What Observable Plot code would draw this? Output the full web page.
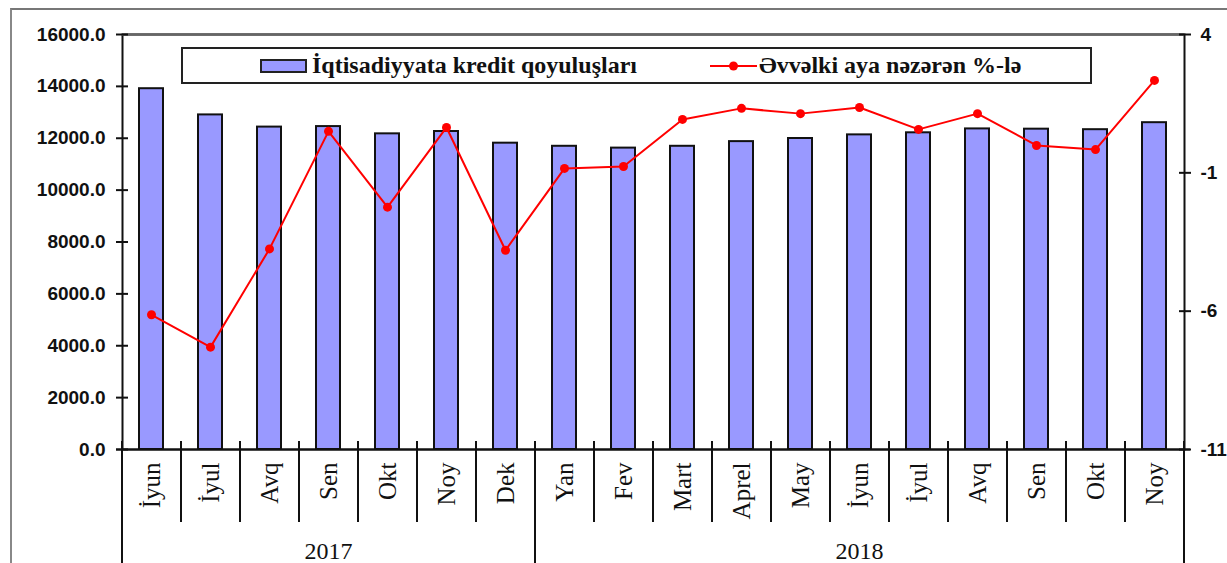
<!DOCTYPE html>
<html>
<head>
<meta charset="utf-8">
<script src="https://cdn.jsdelivr.net/npm/d3@7"></script>
<script src="https://cdn.jsdelivr.net/npm/@observablehq/plot@0.6"></script>
<style>
  html, body { margin: 0; padding: 0; background: #fff; }
  #wrap { position: relative; width: 1227px; height: 563px; overflow: hidden; background: #fff; }
  #wrap > svg { position: absolute; left: 0; top: 0; }
  #outer { position: absolute; left: 10px; top: 8px; right: 0; bottom: 0; border-top: 2px solid #777; border-left: 2px solid #888; pointer-events: none; }
  #legend { position: absolute; left: 181px; top: 47px; width: 907px; height: 33px; border: 2px solid #222; background: #fff;
            font-family: "Liberation Serif", "Times New Roman", serif; font-weight: bold; font-size: 24px; color: #111; }
  .item { position: absolute; top: 0; height: 33px; display: flex; align-items: center; white-space: nowrap; }
  .barsw { display: inline-block; width: 43px; height: 10px; background: #9999ff; border: 2px solid #222; margin-right: 5px; }
  .linesw { display: block; width: 47px; height: 12px; margin-right: 2px; }
</style>
</head>
<body>
<div id="wrap">
  <div id="outer"></div>
</div>
<script>
// ---- data ----
const months = ["İyun","İyul","Avq","Sen","Okt","Noy","Dek","Yan","Fev","Mart","Aprel","May","İyun","İyul","Avq","Sen","Okt","Noy"];
const credit = [13910,12900,12430,12450,12170,12260,11810,11690,11620,11690,11870,11990,12130,12210,12360,12350,12330,12600];
const change = [-6.13,-7.30,-3.75,0.50,-2.24,0.64,-3.80,-0.84,-0.77,0.93,1.33,1.14,1.36,0.57,1.14,-0.01,-0.16,2.34];
const years = ["2017","2018"];
const yearFirst = [0,7];
const yearLast = [6,17];
const leftTicks = [0,2000,4000,6000,8000,10000,12000,14000,16000];
const rightTicks = [4,-1,-6,-11];
const seriesNames = ["İqtisadiyyata kredit qoyuluşları","Əvvəlki aya nəzərən %-lə"];

// ---- layout ----
const W = 1227, H = 563;
const mL = 122, mR = 43, mT = 34, mB = 114;
const n = months.length;
const step = (W - mL - mR) / n;
const yMax = 16000, rMin = -11, rMax = 4;
const toLeft = v => (v - rMin) / (rMax - rMin) * yMax;
const fromLeft = v => Math.round(v / yMax * (rMax - rMin) + rMin);

const data = months.map((m, i) => ({i, month: m, credit: credit[i], change: change[i]}));
const innerBounds = d3.range(1, n).filter(i => !yearFirst.includes(i));
const yearBounds = yearFirst;
const yearData = years.map((y, k) => ({year: y, mid: (yearFirst[k] + yearLast[k]) / 2}));

const sans = "Arial, 'Liberation Sans', sans-serif";
const serif = "'Liberation Serif', 'Times New Roman', serif";

const chart = Plot.plot({
  width: W, height: H,
  marginLeft: mL, marginRight: mR, marginTop: mT, marginBottom: mB,
  style: {background: "transparent", fontFamily: sans, color: "#111", overflow: "visible"},
  x: {type: "band", domain: d3.range(n), paddingInner: 0.59, paddingOuter: 0.295},
  y: {domain: [0, yMax]},
  marks: [
    Plot.barY(data, {x: "i", y: "credit", fill: "#9999ff", stroke: "#111", strokeWidth: 2}),
    Plot.frame({stroke: "#111", strokeWidth: 2}),
    Plot.ruleY([yMax], {stroke: "#666", strokeWidth: 2.5}),
    Plot.ruleY([0], {stroke: "#111", strokeWidth: 2, insetLeft: -6, insetRight: -6}),
    // category separators
    Plot.ruleX(innerBounds, {x: d => d, dx: -step / 2, stroke: "#111", strokeWidth: 2, insetTop: 407, insetBottom: -73}),
    Plot.ruleX(yearBounds, {x: d => d, dx: -step / 2, stroke: "#111", strokeWidth: 2, insetTop: 407, insetBottom: -mB}),
    Plot.ruleX([n - 1], {x: d => d, dx: step / 2, stroke: "#111", strokeWidth: 2, insetTop: 407, insetBottom: -mB}),
    // line series on secondary scale
    Plot.lineY(data, {x: "i", y: d => toLeft(d.change), stroke: "#ff0000", strokeWidth: 2}),
    Plot.dot(data, {x: "i", y: d => toLeft(d.change), fill: "#ff0000", r: 4.5}),
    // axes
    Plot.axisY({ticks: leftTicks, tickFormat: d => d.toFixed(1), tickSize: 12, dx: 6, tickPadding: 11,
                fontSize: 19, fontWeight: "bold", fontFamily: sans, stroke: "#111", strokeWidth: 2, label: null}),
    Plot.axisY({anchor: "right", ticks: rightTicks.map(toLeft), tickFormat: d => String(fromLeft(d)), tickSize: 12, dx: -6, tickPadding: 10,
                fontSize: 19, fontWeight: "bold", fontFamily: sans, stroke: "#111", strokeWidth: 2, label: null}),
    Plot.axisX({tickFormat: i => months[i], tickRotate: -90, tickSize: 0, tickPadding: 13,
                fontSize: 25, fontFamily: serif, label: null}),
    Plot.text(yearData, {x: d => Math.round(d.mid), text: "year", frameAnchor: "bottom", dy: 102,
                fontSize: 24, fontFamily: serif, fill: "#111", lineAnchor: "middle"})
  ]
});
document.getElementById("wrap").appendChild(chart);

// legend
const legend = document.createElement("div");
legend.id = "legend";
legend.innerHTML =
  `<div class="item" style="left:77px"><span class="barsw"></span><span>${seriesNames[0]}</span></div>` +
  `<div class="item" style="left:527px"><svg class="linesw" viewBox="0 0 47 12"><line x1="0" y1="6" x2="47" y2="6" stroke="#ff0000" stroke-width="2"/><circle cx="23.5" cy="6" r="4.5" fill="#ff0000"/></svg><span>${seriesNames[1]}</span></div>`;
document.getElementById("wrap").appendChild(legend);
</script>
</body>
</html>
